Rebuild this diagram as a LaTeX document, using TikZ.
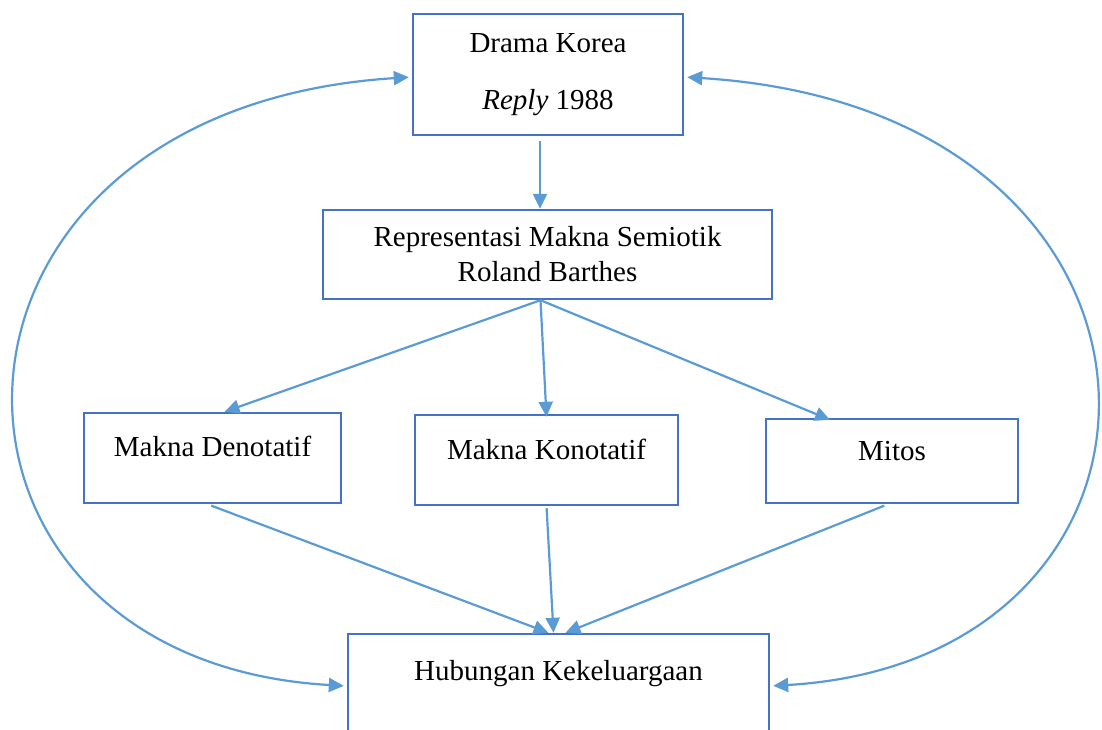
\documentclass[tikz,border=0pt]{standalone}
\usepackage{fontspec}
\setmainfont{Liberation Serif}
\usetikzlibrary{arrows.meta}
\definecolor{boxblue}{RGB}{68,114,196}
\definecolor{arrblue}{RGB}{91,155,213}

\begin{document}
\begin{tikzpicture}[x=1pt, y=-1pt,
    box/.style={rectangle, draw=boxblue, line width=2.4pt, fill=white, inner sep=0pt, text height=20pt, text depth=6pt},
    arr/.style={draw=arrblue, line width=2.2pt, -{Triangle[length=15pt,width=14pt]}},
    twoarr/.style={draw=arrblue, line width=2.2pt, {Triangle[length=15pt,width=14pt]}-{Triangle[length=15pt,width=14pt]}}]
            \useasboundingbox (0,0) rectangle (1102,729);
            \fontsize{29}{35}\selectfont

            %nodes
            \node[box, align=center, text height=, text depth=, minimum width=270pt, minimum height=121pt] (drama) at (548, 74.5) {Drama Korea\\[22pt]\textit{Reply} 1988};
            \node[box, align=center, text height=, text depth=, minimum width=449pt, minimum height=89pt] (rep) at (547.5, 254.5) {Representasi Makna Semiotik\\Roland Barthes};
            \node[box, text depth=24pt, minimum width=257pt, minimum height=90pt] (den) at (212.5, 458) {Makna Denotatif};
            \node[box, text depth=22pt, minimum width=263pt, minimum height=90pt] (kon) at (546.5, 460) {Makna Konotatif};
            \node[box, text depth=22pt, minimum width=252pt, minimum height=84pt] (mitos) at (892, 461) {Mitos};
            \node[box, text depth=58pt, minimum width=421pt, minimum height=130pt] (hub) at (558.5, 699) {Hubungan Kekeluargaan};

            %edges
            \draw[arr, shorten <=5pt] ([xshift=-8pt]drama.south) -- ([xshift=-8pt]drama.south |- rep.north);
            \draw[arr] ([xshift=-7pt]rep.south) -- ([xshift=12pt]den.north);
            \draw[arr] ([xshift=-7pt]rep.south) -- ([yshift=-3pt]kon.north);
            \draw[arr] ([xshift=-7pt]rep.south) -- ([xshift=-62pt, yshift=-2pt]mitos.north);
            \draw[arr, shorten <=4pt] ([xshift=-5pt]den.south) -- ([xshift=-10pt]hub.north);
            \draw[arr, shorten <=2pt] (kon.south) -- ([xshift=-5pt]hub.north);
            \draw[arr, shorten <=4pt] ([xshift=-4pt]mitos.south) -- ([xshift=7pt]hub.north);
            \draw[twoarr, shorten <=3pt, shorten >=3pt] ([yshift=-2.5pt]drama.west) .. controls (-104, 110) and (-104, 660) .. ([yshift=13pt]hub.west);
            \draw[twoarr, shorten <=3pt, shorten >=3pt] ([yshift=-2.5pt]drama.east) .. controls (1216, 110) and (1216, 660) .. ([yshift=13pt]hub.east);
        \end{tikzpicture}
\end{document}
